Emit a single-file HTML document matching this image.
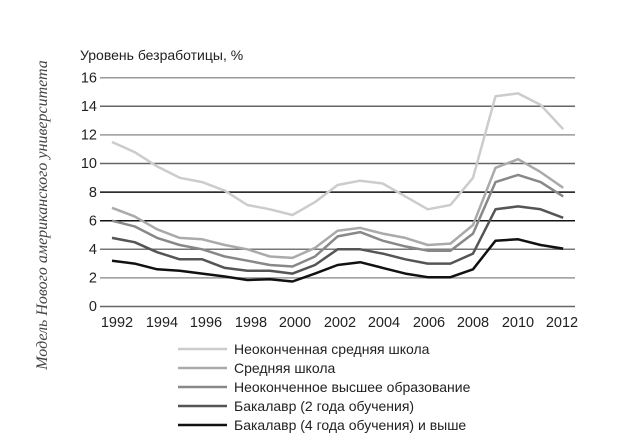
<!DOCTYPE html>
<html><head><meta charset="utf-8"><style>
html,body{margin:0;padding:0;background:#fff;}
svg{display:block;}
text{font-family:"Liberation Sans","DejaVu Sans",sans-serif;fill:#222;}
</style></head><body>
<svg width="633" height="445" xmlns="http://www.w3.org/2000/svg">
<text x="47" y="215" transform="rotate(-90 47 215)" text-anchor="middle" style="font-family:'Liberation Serif',serif;font-style:italic;font-size:16px;fill:#444">Модель Нового американского университета</text>
<text x="80" y="60" font-size="14">Уровень безработицы, %</text>
<g stroke-width="1.5">
<line x1="100" x2="575" y1="77.7" y2="77.7" stroke="#999"/>
<line x1="100" x2="575" y1="106.3" y2="106.3" stroke="#666"/>
<line x1="100" x2="575" y1="134.9" y2="134.9" stroke="#999"/>
<line x1="100" x2="575" y1="163.5" y2="163.5" stroke="#666"/>
<line x1="100" x2="575" y1="192.1" y2="192.1" stroke="#111"/>
<line x1="100" x2="575" y1="220.7" y2="220.7" stroke="#111"/>
<line x1="100" x2="575" y1="249.3" y2="249.3" stroke="#777"/>
<line x1="100" x2="575" y1="277.9" y2="277.9" stroke="#999"/>
<line x1="100" x2="575" y1="306.5" y2="306.5" stroke="#666"/>
</g>
<g font-size="14.5" text-anchor="end">
<text x="97" y="82.5">16</text><text x="97" y="111">14</text><text x="97" y="139.5">12</text><text x="97" y="168">10</text>
<text x="97" y="197">8</text><text x="97" y="225.5">6</text><text x="97" y="254">4</text><text x="97" y="282.5">2</text><text x="97" y="311">0</text>
</g>
<g font-size="14.5" text-anchor="middle">
<text x="117" y="327">1992</text><text x="162" y="327">1994</text><text x="206" y="327">1996</text><text x="251" y="327">1998</text><text x="295" y="327">2000</text><text x="340" y="327">2002</text><text x="384" y="327">2004</text><text x="429" y="327">2006</text><text x="473" y="327">2008</text><text x="518" y="327">2010</text><text x="562" y="327">2012</text>
</g>
<g fill="none" stroke-width="2.5" stroke-linejoin="round">
<polyline stroke="#ccc" points="112,142.0 134.6,152.1 157.1,166.4 179.7,177.8 202.2,182.1 224.8,190.7 247.4,205.0 269.9,209.3 292.5,215.0 315,202.1 337.6,185.0 360.2,180.7 382.7,183.5 405.3,196.4 427.8,209.3 450.4,205.0 473,177.8 495.5,96.3 518.1,93.4 540.6,104.9 563.2,129.2"/>
<polyline stroke="#aaa" points="112,207.8 134.6,216.4 157.1,229.3 179.7,237.9 202.2,239.3 224.8,245.0 247.4,249.3 269.9,256.5 292.5,257.9 315,247.9 337.6,230.7 360.2,227.9 382.7,233.6 405.3,237.9 427.8,245.0 450.4,243.6 473,225.0 495.5,167.8 518.1,159.2 540.6,172.1 563.2,187.8"/>
<polyline stroke="#888" points="112,220.7 134.6,226.4 157.1,237.9 179.7,245.0 202.2,249.3 224.8,256.5 247.4,260.7 269.9,265.0 292.5,266.5 315,256.5 337.6,236.4 360.2,232.1 382.7,240.7 405.3,246.4 427.8,250.7 450.4,250.7 473,233.6 495.5,182.1 518.1,174.9 540.6,182.1 563.2,196.4"/>
<polyline stroke="#555" points="112,237.9 134.6,242.2 157.1,252.2 179.7,259.3 202.2,259.3 224.8,267.9 247.4,270.8 269.9,270.8 292.5,273.6 315,265.0 337.6,249.3 360.2,249.3 382.7,253.6 405.3,259.3 427.8,263.6 450.4,263.6 473,253.6 495.5,209.3 518.1,206.4 540.6,209.3 563.2,217.8"/>
<polyline stroke="#111" points="112,260.7 134.6,263.6 157.1,269.3 179.7,270.8 202.2,273.6 224.8,276.5 247.4,280.0 269.9,279.3 292.5,281.5 315,273.6 337.6,265.0 360.2,262.2 382.7,267.9 405.3,273.6 427.8,277.2 450.4,277.2 473,269.3 495.5,240.7 518.1,239.3 540.6,245.0 563.2,248.6"/>
</g>
<g stroke-width="2.5">
<line x1="178" x2="227" y1="349" y2="349" stroke="#ccc"/>
<line x1="178" x2="227" y1="368" y2="368" stroke="#aaa"/>
<line x1="178" x2="227" y1="387" y2="387" stroke="#888"/>
<line x1="178" x2="227" y1="406" y2="406" stroke="#555"/>
<line x1="178" x2="227" y1="425" y2="425" stroke="#111"/>
</g>
<g font-size="14">
<text x="234" y="354">Неоконченная средняя школа</text>
<text x="234" y="373">Средняя школа</text>
<text x="234" y="392">Неоконченное высшее образование</text>
<text x="234" y="411">Бакалавр (2 года обучения)</text>
<text x="234" y="430">Бакалавр (4 года обучения) и выше</text>
</g>
</svg>
</body></html>
